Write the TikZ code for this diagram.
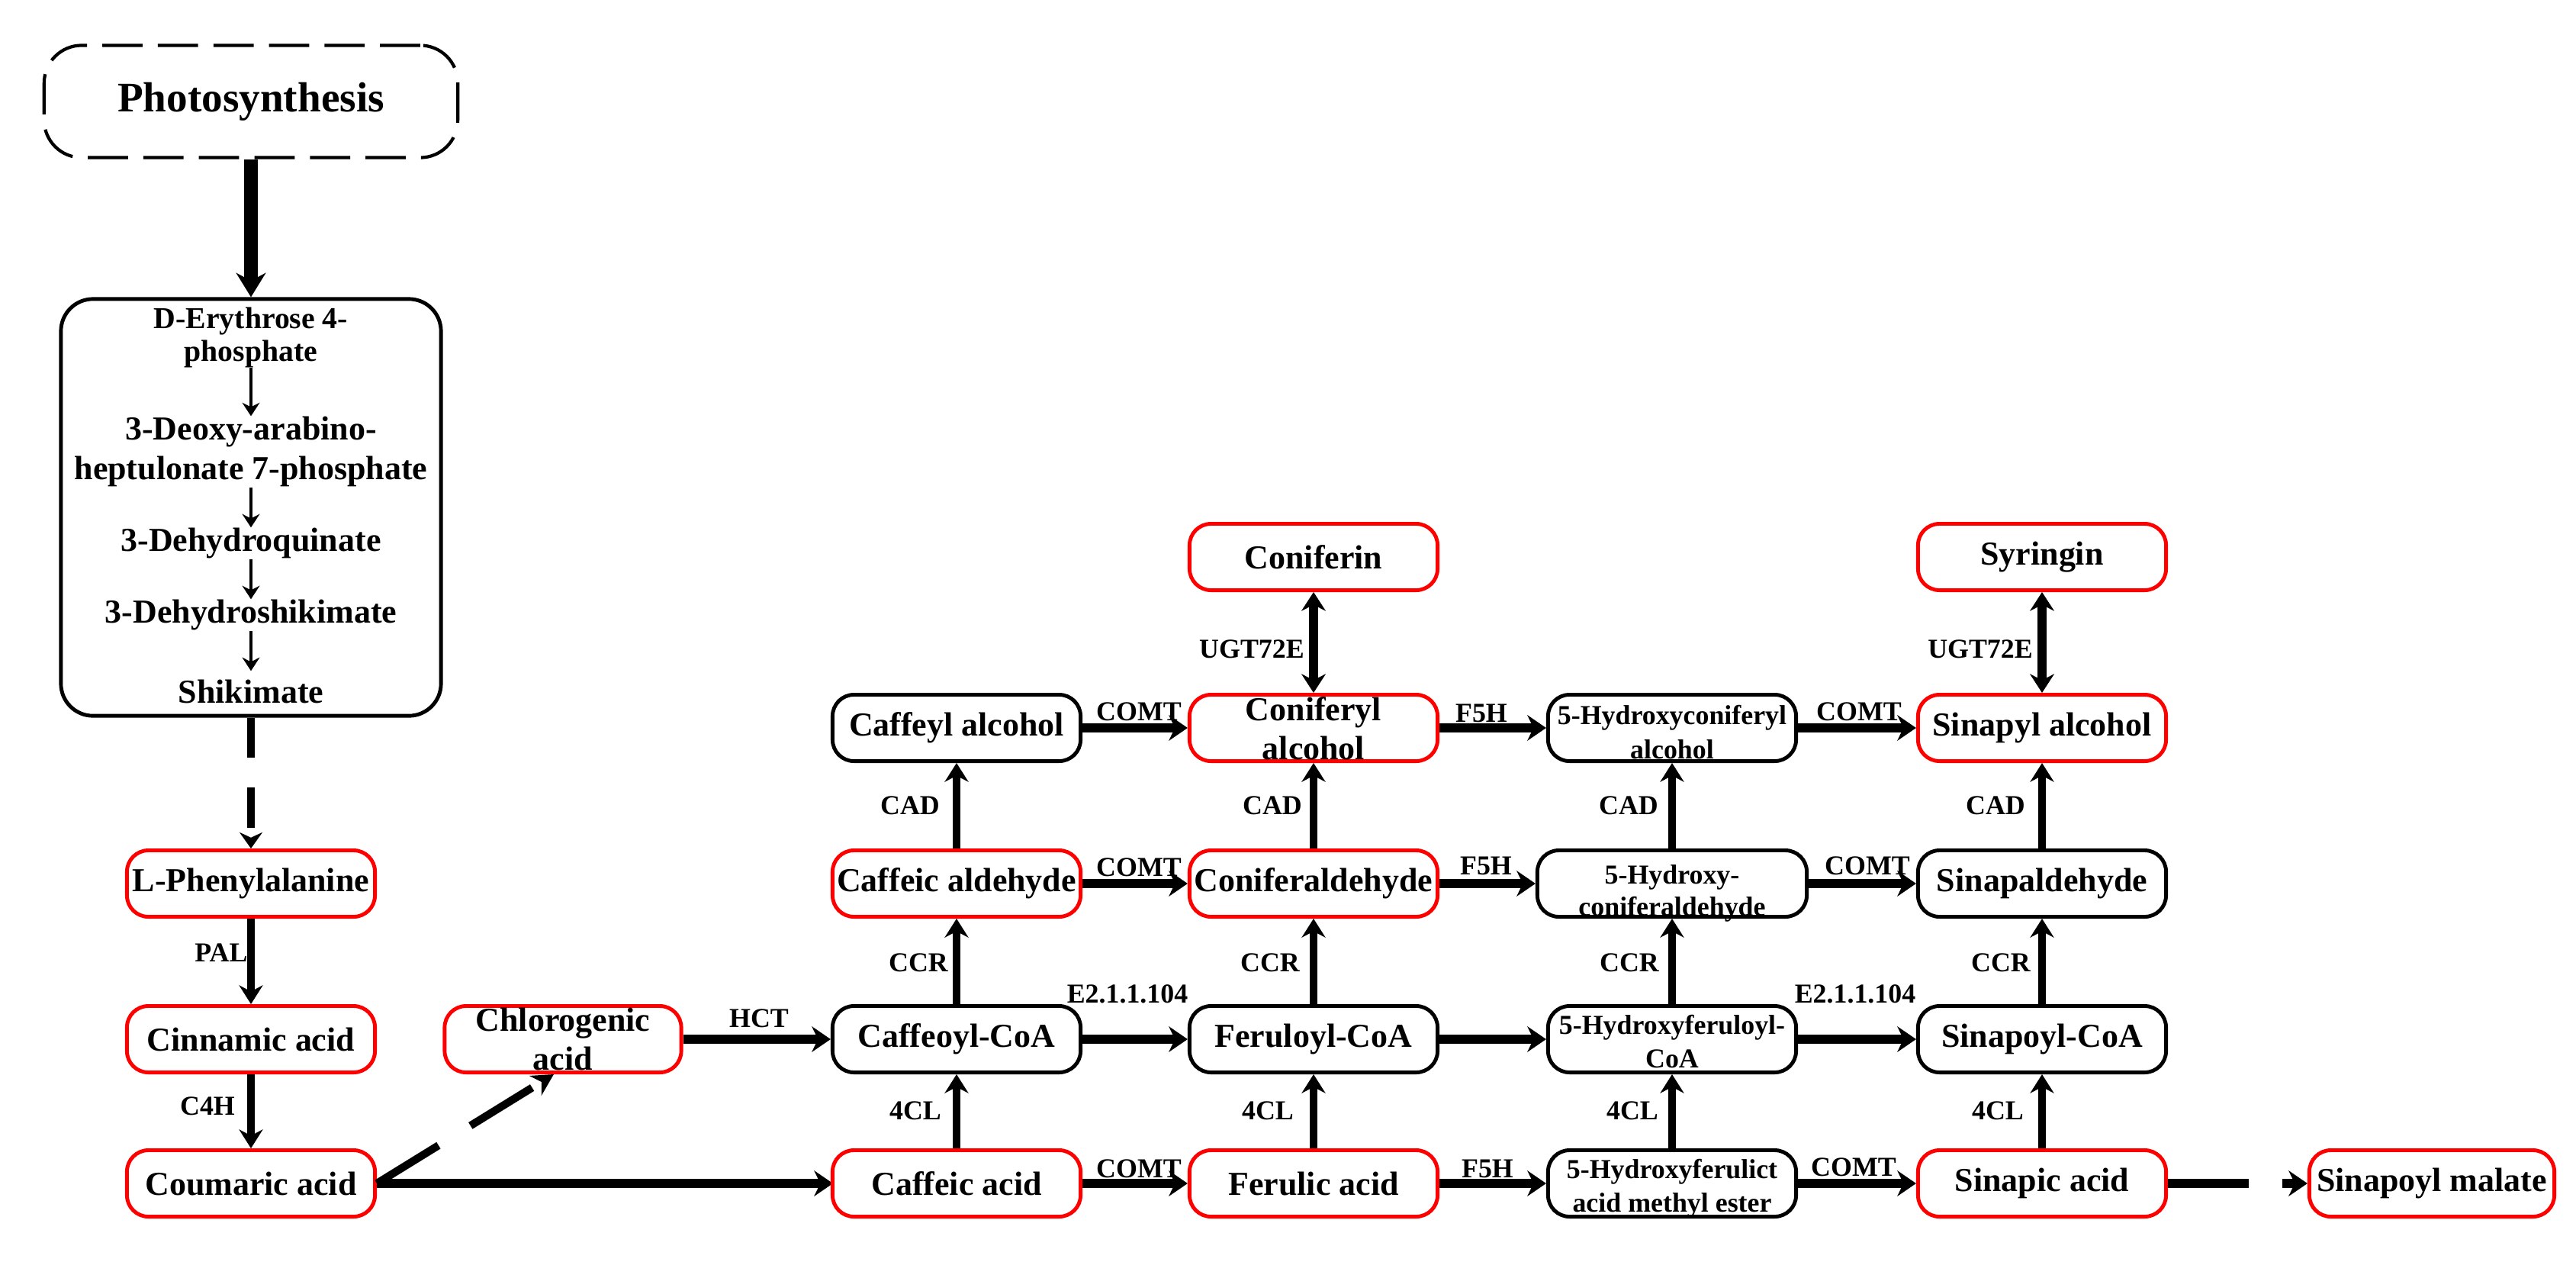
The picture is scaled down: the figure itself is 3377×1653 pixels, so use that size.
\documentclass[tikz,border=0pt]{standalone}
\usepackage{fontspec}
\setmainfont{Liberation Serif}
\usetikzlibrary{arrows.meta}
\begin{document}
\begin{tikzpicture}[x=0.01cm,y=-0.01cm,
 nbox/.style={rounded corners=8pt, line width=1.4pt, minimum width=3.25cm, minimum height=0.87cm, inner sep=0pt, font=\fontsize{12.5}{14.5}\selectfont\bfseries, align=center},
 redbox/.style={nbox, draw=red},
 blkbox/.style={nbox, draw=black},
 txt/.style={inner sep=0pt, font=\fontsize{12.5}{14.5}\selectfont\bfseries},
 stxt/.style={inner sep=0pt, font=\fontsize{10.2}{12.5}\selectfont\bfseries},
 enz/.style={inner sep=0pt, font=\fontsize{10.2}{12}\selectfont\bfseries},
 harr/.style={line width=3.5pt, -{Stealth[length=7pt,width=9.5pt]}},
 varr/.style={line width=3.1pt, -{Stealth[length=7pt,width=8.8pt]}},
 darr/.style={line width=3.3pt, {Stealth[length=7pt,width=9pt]}-{Stealth[length=7pt,width=9pt]}},
 inarr/.style={line width=1.1pt, -{Stealth[length=5pt,width=6.5pt]}},
]
\useasboundingbox (0,0) rectangle (3377,1653);

% ---- top left
\node[draw, line width=1.2pt, dash pattern=on 15pt off 5.7pt, rounded corners=14pt,
      minimum width=5.42cm, minimum height=1.47cm, inner sep=0pt,
      font=\fontsize{15.7}{18}\selectfont\bfseries] (ps) at (329,133) {Photosynthesis};
\node[draw, line width=1.4pt, rounded corners=12pt, minimum width=4.98cm, minimum height=5.46cm] (pw) at (329,665) {};
\node[inner sep=0pt, align=center, font=\fontsize{11.3}{12.2}\selectfont\bfseries] (e4p) at (329,442) {D-Erythrose 4-\\phosphate};
\node[inner sep=0pt, align=center, font=\fontsize{12.5}{14.8}\selectfont\bfseries] (dahp) at (329,592) {3-Deoxy-arabino-\\heptulonate 7-phosphate};
\node[txt] (dhq) at (329,712) {3-Dehydroquinate};
\node[txt] (dhs) at (329,806) {3-Dehydroshikimate};
\node[txt, inner sep=3pt] (shk) at (329,906) {Shikimate};
\draw[inarr] (e4p) -- (dahp);
\draw[inarr] (dahp) -- (dhq);
\draw[inarr] (dhq) -- (dhs);
\draw[inarr] (dhs) -- (shk);
\draw[line width=5.2pt, -{Stealth[length=9pt,width=11pt]}] (ps) -- (pw);

% ---- left column
\node[redbox] (phe) at (329,1158) {L-Phenylalanine};
\node[redbox] (cin) at (329,1362) {Cinnamic acid};
\node[redbox] (cou) at (329,1551) {Coumaric acid};
\node[redbox, minimum width=3.10cm] (chl) at (738,1362) {};
\node[txt, anchor=base] (chl1) at (738,1351) {Chlorogenic};
\node[txt, anchor=base] (chl2) at (738,1402) {acid};

\draw[line width=3.1pt, dash pattern=on 15pt off 11pt, -{Stealth[length=6pt,width=8.5pt]}] (pw) -- (phe);
\draw[varr] (phe) -- (cin);
\draw[varr] (cin) -- (cou);
\node[enz] (pal) at (290,1249) {PAL};
\node[enz] (c4h) at (272,1450) {C4H};
\draw[line width=2.9pt, dash pattern=on 27pt off 14pt, -{Stealth[length=8pt,width=8.5pt]}] (cou.east) -- ([xshift=-0.12cm]chl.south);
\draw[harr] (cou.east) -- (1092,1551);

% ---- column 1
\node[blkbox] (cfa) at (1254,954) {Caffeyl alcohol};
\node[redbox] (cfd) at (1254,1158) {Caffeic aldehyde};
\node[blkbox] (cfc) at (1254,1362) {Caffeoyl-CoA};
\node[redbox] (cfx) at (1254,1551) {Caffeic acid};
% ---- column 2
\node[redbox] (cnn) at (1722,730) {Coniferin};
\node[redbox] (cna) at (1722,954) {};
\node[txt, anchor=base] (cna1) at (1722,944) {Coniferyl};
\node[txt, anchor=base] (cna2) at (1722,995) {alcohol};
\node[redbox] (cnd) at (1722,1158) {Coniferaldehyde};
\node[blkbox] (frc) at (1722,1362) {Feruloyl-CoA};
\node[redbox] (frx) at (1722,1551) {Ferulic acid};
% ---- column 3
\node[blkbox] (hca) at (2192,954) {};
\node[stxt, anchor=base] (hca1) at (2192,949) {5-Hydroxyconiferyl};
\node[stxt, anchor=base] (hca2) at (2192,994) {alcohol};
\node[blkbox, minimum width=3.53cm] (hcd) at (2192,1158) {};
\node[stxt, anchor=base] (hcd1) at (2192,1158) {5-Hydroxy-};
\node[stxt, anchor=base] (hcd2) at (2192,1200) {coniferaldehyde};
\node[blkbox] (hfc) at (2192,1362) {};
\node[stxt, anchor=base] (hfc1) at (2192,1355) {5-Hydroxyferuloyl-};
\node[stxt, anchor=base] (hfc2) at (2192,1399) {CoA};
\node[blkbox] (hfx) at (2192,1551) {};
\node[stxt, anchor=base] (hfx1) at (2192,1544) {5-Hydroxyferulict};
\node[stxt, anchor=base] (hfx2) at (2192,1588) {acid methyl ester};
% ---- column 4
\node[redbox] (syr) at (2677,730) {Syringin};
\node[redbox] (spa) at (2677,954) {Sinapyl alcohol};
\node[blkbox] (spd) at (2677,1158) {Sinapaldehyde};
\node[blkbox] (spc) at (2677,1362) {Sinapoyl-CoA};
\node[redbox] (spx) at (2677,1551) {Sinapic acid};
\node[redbox, minimum width=3.21cm] (spm) at (3188,1551) {Sinapoyl malate};

% ---- horizontal connectors
\draw[harr] (chl) -- (cfc);
\draw[harr] (cfa) -- (cna);
\draw[harr] (cna) -- (hca);
\draw[harr] (hca) -- (spa);
\draw[harr] (cfd) -- (cnd);
\draw[harr] (cnd) -- (hcd);
\draw[harr] (hcd) -- (spd);
\draw[harr] (cfc) -- (frc);
\draw[harr] (frc) -- (hfc);
\draw[harr] (hfc) -- (spc);
\draw[harr] (cfx) -- (frx);
\draw[harr] (frx) -- (hfx);
\draw[harr] (hfx) -- (spx);
\draw[harr, dash pattern=on 30pt off 12.5pt] (spx) -- (spm);

% ---- vertical connectors
\foreach \a/\b in {cfx/cfc, cfc/cfd, cfd/cfa, frx/frc, frc/cnd, cnd/cna, hfx/hfc, hfc/hcd, hcd/hca, spx/spc, spc/spd, spd/spa}
  \draw[varr] (\a) -- (\b);
\draw[darr] (cnn) -- (cna);
\draw[darr] (syr) -- (spa);

% ---- enzyme labels
\node[enz] (l1) at (995,1335) {HCT};
\node[enz] (l2) at (1193,1056) {CAD};
\node[enz] (l3) at (1204,1262) {CCR};
\node[enz] (l4) at (1200,1456) {4CL};
\node[enz] (l5) at (1641,851) {UGT72E};
\node[enz] (l6) at (1668,1056) {CAD};
\node[enz] (l7) at (1665,1262) {CCR};
\node[enz] (l8) at (1662,1456) {4CL};
\node[enz] (l9) at (2135,1056) {CAD};
\node[enz] (l10) at (2136,1262) {CCR};
\node[enz] (l11) at (2140,1456) {4CL};
\node[enz] (l12) at (2596,851) {UGT72E};
\node[enz] (l13) at (2616,1056) {CAD};
\node[enz] (l14) at (2623,1262) {CCR};
\node[enz] (l15) at (2619,1456) {4CL};
\node[enz] (l16) at (1493,933) {COMT};
\node[enz] (l17) at (1493,1137) {COMT};
\node[enz] (l18) at (1493,1532) {COMT};
\node[enz] (l19) at (1478,1303) {E2.1.1.104};
\node[enz] (l20) at (1942,935) {F5H};
\node[enz] (l21) at (1948,1135) {F5H};
\node[enz] (l22) at (1950,1532) {F5H};
\node[enz] (l23) at (2437,933) {COMT};
\node[enz] (l24) at (2448,1135) {COMT};
\node[enz] (l25) at (2430,1530) {COMT};
\node[enz] (l26) at (2432,1303) {E2.1.1.104};
\end{tikzpicture}
\end{document}
